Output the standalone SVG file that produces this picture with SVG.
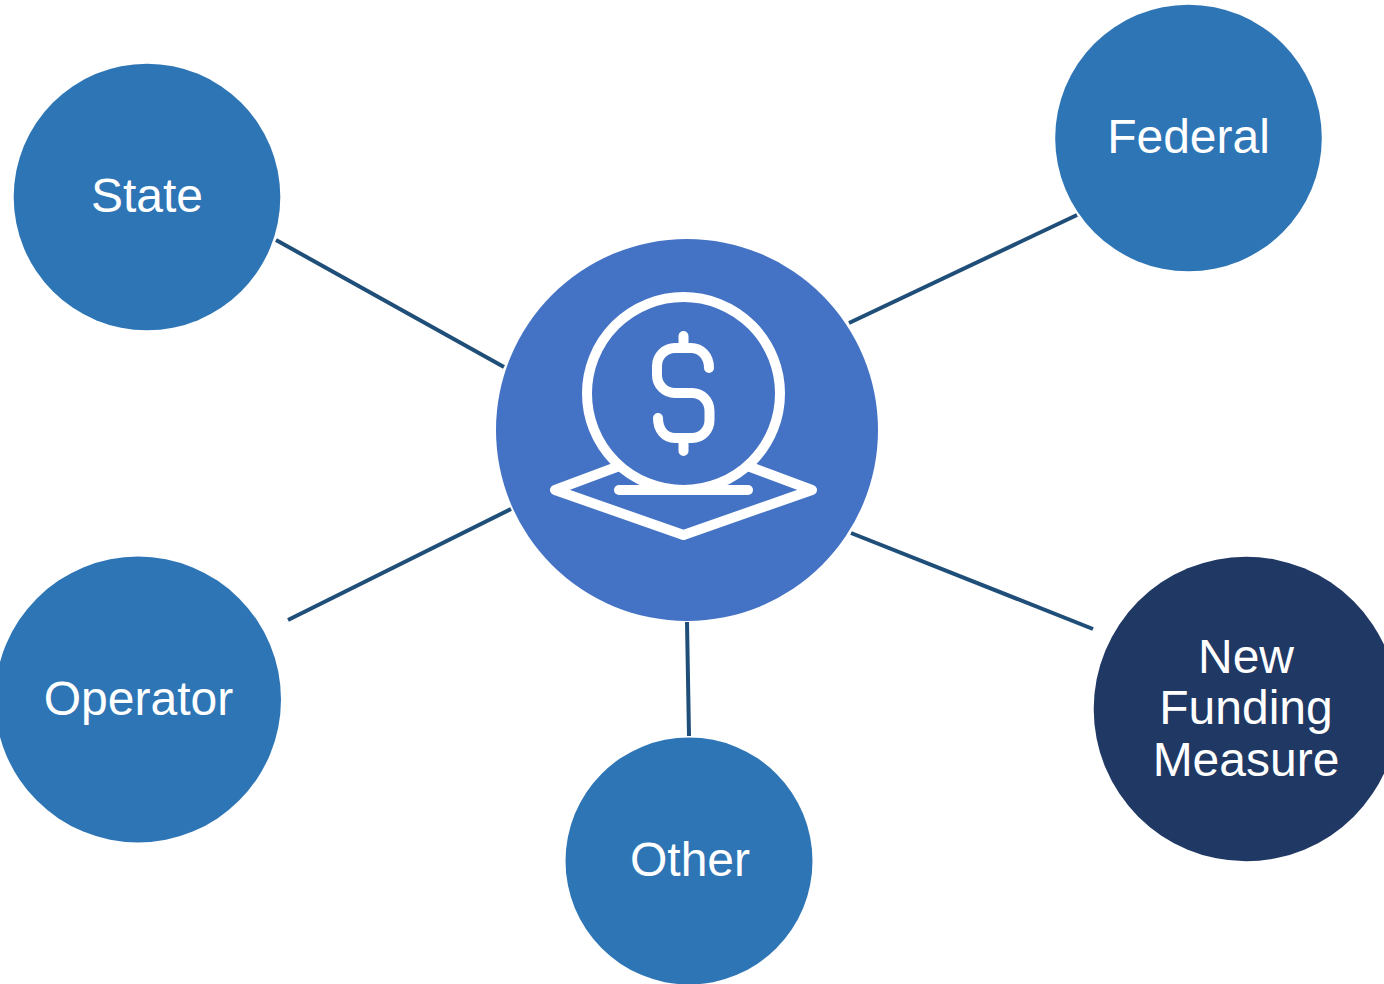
<svg xmlns="http://www.w3.org/2000/svg" width="1384" height="984" viewBox="0 0 1384 984">
<style>
.n{fill:#2e75b6}
.t{fill:#fff;font-family:"Liberation Sans",Arial,sans-serif;font-size:48px;text-anchor:middle}
.c{stroke:#1f4e79;stroke-width:4;fill:none}
.i{stroke:#fff;stroke-width:10;fill:none;stroke-linecap:round;stroke-linejoin:round}
</style>
<rect width="1384" height="984" fill="#fff"/>
<g id="connectors">
<line class="c" x1="276" y1="240" x2="504" y2="367"/>
<line class="c" x1="849" y1="323" x2="1077" y2="215"/>
<line class="c" x1="288" y1="620" x2="511" y2="509"/>
<line class="c" x1="851" y1="533" x2="1093" y2="629"/>
<line class="c" x1="687" y1="622" x2="689" y2="736"/>
</g>
<g id="center">
<circle cx="687" cy="430" r="191" fill="#4472c4"/>
<circle class="i" cx="683.500" cy="393.500" r="96.500"/>
<path class="i" d="M709 368C709 356 701 348 691 348H675C665 348 657 356 657 366V375C657 385 665 393 675 393H692C702 393 709.500 401 709.500 411V420C709.500 430 702 438 692 438H675C665 438 658 430 658 418M683.500 336V348M683.500 438V451"/>
<path d="M622 465L555 490L683.500 535L812 490L745 465" stroke="#fff" stroke-width="10" fill="none" stroke-linejoin="round"/>
<path class="i" d="M619 490H748"/>
</g>
<g id="state"><circle class="n" cx="147" cy="197" r="133.300"/><text class="t" x="147" y="211.500">State</text></g>
<g id="federal"><circle class="n" cx="1188.500" cy="138" r="133.300"/><text class="t" x="1188.500" y="153">Federal</text></g>
<g id="operator"><circle class="n" cx="138" cy="699.500" r="143"/><text class="t" x="138.500" y="715">Operator</text></g>
<g id="other"><circle class="n" cx="689" cy="861" r="123.500"/><text class="t" x="690" y="876">Other</text></g>
<g id="new-funding-measure"><circle cx="1246" cy="709" r="152.300" fill="#203864"/><text class="t" x="1246" y="673">New</text><text class="t" x="1246" y="724">Funding</text><text class="t" x="1246" y="776">Measure</text></g>
</svg>
